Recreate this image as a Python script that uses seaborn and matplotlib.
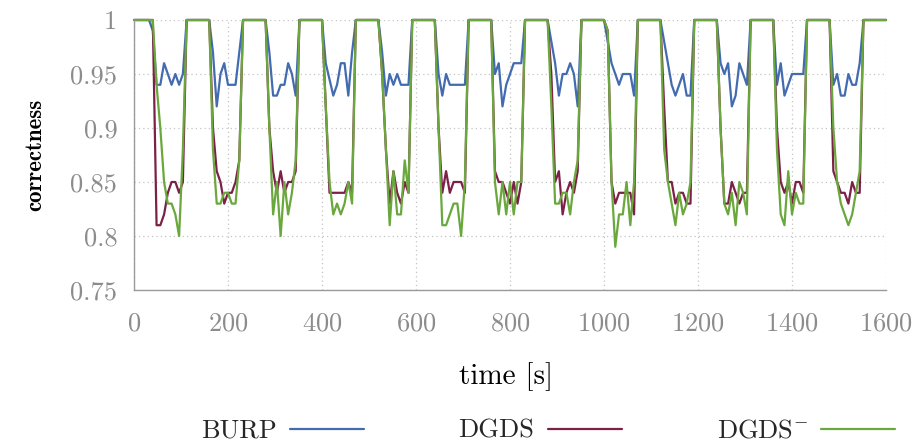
import numpy as np
import pandas as pd
import matplotlib
matplotlib.use("Agg")
import matplotlib.pyplot as plt
import seaborn as sns
from matplotlib.ticker import FuncFormatter

# ---------------- data ----------------
time_s = np.arange(0, 1601, 8)          # sample times [s]
series_names = ["BURP", "DGDS", r"DGDS$^{-}$"]
x_ticks = [0, 200, 400, 600, 800, 1000, 1200, 1400, 1600]
y_ticks = [0.75, 0.8, 0.85, 0.9, 0.95, 1.0]

# values inside each low phase (8 samples per phase, 13 phases); elsewhere 1
burp_dips = [
    [0.94, 0.94, 0.96, 0.95, 0.94, 0.95, 0.94, 0.95],
    [0.97, 0.92, 0.95, 0.96, 0.94, 0.94, 0.94, 0.97],
    [0.97, 0.93, 0.93, 0.94, 0.94, 0.96, 0.95, 0.93],
    [0.96, 0.945, 0.93, 0.94, 0.96, 0.96, 0.93, 0.97],
    [0.97, 0.93, 0.95, 0.94, 0.95, 0.94, 0.94, 0.94],
    [0.95, 0.93, 0.95, 0.94, 0.94, 0.94, 0.94, 0.94],
    [0.95, 0.96, 0.92, 0.94, 0.95, 0.96, 0.96, 0.96],
    [0.98, 0.96, 0.93, 0.95, 0.95, 0.96, 0.95, 0.92],
    [0.98, 0.96, 0.95, 0.94, 0.95, 0.95, 0.95, 0.93],
    [0.98, 0.96, 0.94, 0.93, 0.94, 0.95, 0.93, 0.93],
    [0.96, 0.95, 0.96, 0.92, 0.93, 0.96, 0.95, 0.94],
    [0.94, 0.96, 0.93, 0.94, 0.95, 0.95, 0.95, 0.95],
    [0.94, 0.95, 0.93, 0.93, 0.95, 0.94, 0.94, 0.96],
]
burp_first_drop = 0.99   # BURP value at t = 40 s

dgds_dips = [
    [0.81, 0.81, 0.82, 0.84, 0.85, 0.85, 0.84, 0.85],
    [0.90, 0.86, 0.85, 0.83, 0.84, 0.84, 0.85, 0.87],
    [0.90, 0.86, 0.84, 0.86, 0.84, 0.85, 0.85, 0.86],
    [0.92, 0.84, 0.84, 0.84, 0.84, 0.84, 0.85, 0.84],
    [0.95, 0.88, 0.83, 0.86, 0.84, 0.83, 0.85, 0.84],
    [0.90, 0.84, 0.86, 0.84, 0.85, 0.85, 0.85, 0.84],
    [0.86, 0.85, 0.85, 0.84, 0.83, 0.85, 0.83, 0.85],
    [0.95, 0.85, 0.86, 0.82, 0.84, 0.85, 0.84, 0.86],
    [0.99, 0.85, 0.83, 0.84, 0.84, 0.84, 0.84, 0.82],
    [0.92, 0.85, 0.85, 0.83, 0.84, 0.84, 0.83, 0.83],
    [0.90, 0.83, 0.83, 0.85, 0.84, 0.83, 0.84, 0.84],
    [0.90, 0.85, 0.84, 0.85, 0.83, 0.85, 0.85, 0.84],
    [0.86, 0.85, 0.84, 0.84, 0.83, 0.85, 0.84, 0.84],
]

dgds_minus_dips = [
    [0.94, 0.90, 0.85, 0.83, 0.83, 0.82, 0.80, 0.88],
    [0.88, 0.83, 0.83, 0.84, 0.84, 0.83, 0.83, 0.87],
    [0.90, 0.82, 0.85, 0.80, 0.85, 0.82, 0.84, 0.87],
    [0.92, 0.85, 0.82, 0.83, 0.82, 0.83, 0.85, 0.83],
    [0.95, 0.88, 0.81, 0.86, 0.82, 0.82, 0.87, 0.84],
    [0.90, 0.81, 0.81, 0.82, 0.83, 0.83, 0.80, 0.85],
    [0.85, 0.82, 0.85, 0.82, 0.85, 0.82, 0.85, 0.85],
    [0.92, 0.83, 0.83, 0.84, 0.84, 0.82, 0.85, 0.87],
    [0.99, 0.85, 0.79, 0.82, 0.82, 0.85, 0.81, 0.85],
    [0.88, 0.85, 0.83, 0.81, 0.84, 0.82, 0.83, 0.85],
    [0.90, 0.83, 0.82, 0.84, 0.81, 0.85, 0.84, 0.82],
    [0.88, 0.82, 0.81, 0.86, 0.82, 0.84, 0.83, 0.83],
    [0.90, 0.85, 0.83, 0.82, 0.81, 0.82, 0.84, 0.86],
]

colors = ["#426bb0", "#7b2148", "#6aa83d"]


def build(dips):
    v = np.ones(len(time_s))
    for k, d in enumerate(dips):
        i0 = 6 + 15 * k
        v[i0:i0 + len(d)] = d
    return v


burp = build(burp_dips)
burp[5] = burp_first_drop
dgds = build(dgds_dips)
dgds_minus = build(dgds_minus_dips)

df = pd.concat([
    pd.DataFrame({"time": time_s, "value": vals, "series": name})
    for name, vals in zip(series_names, [burp, dgds, dgds_minus])
], ignore_index=True)

# ---------------- style ----------------
sns.set_theme(style="white")
plt.rcParams["font.family"] = ["cmr10", "DejaVu Serif"]
plt.rcParams["mathtext.fontset"] = "cm"
plt.rcParams["axes.formatter.use_mathtext"] = True
plt.rcParams["axes.unicode_minus"] = False

W, H = 919, 445
fig = plt.figure(figsize=(W / 100, H / 100), dpi=100)
ax = fig.add_axes([134 / W, 1 - 290 / H, (886 - 134) / W, (290 - 20) / H])

sns.lineplot(data=df, x="time", y="value", hue="series",
             palette=dict(zip(series_names, colors)), hue_order=series_names,
             estimator=None, linewidth=1.6, legend=False, ax=ax)
for ln in ax.lines:
    ln.set_clip_on(False)

ax.set_xlim(0, 1600)
ax.set_ylim(0.75, 1.0)
ax.set_xticks(x_ticks)
ax.set_yticks(y_ticks)
ax.yaxis.set_major_formatter(FuncFormatter(lambda v, p: f"{round(v, 2):g}"))

ax.grid(True, linestyle=(0, (1, 2.5)), color="#c4c4c4", linewidth=0.9)
for s in ["top", "right"]:
    ax.spines[s].set_visible(False)
for s in ["left", "bottom"]:
    ax.spines[s].set_color("#9a9a9a")
    ax.spines[s].set_linewidth(1.0)

ax.tick_params(axis="both", direction="in", length=9, width=1.0,
               color="#9a9a9a", labelcolor="#8c8c8c", labelsize=19)
ax.tick_params(axis="x", pad=16)
ax.tick_params(axis="y", pad=12)

ax.set_xlabel("time [s]", fontsize=21, color="black")
ax.xaxis.set_label_coords((506 - 134) / 752, (290 - 362) / 270)
ax.set_ylabel("correctness", fontsize=16.5, color="black", family="cmb10")
ax.yaxis.set_label_coords((46 - 134) / 752, 0.5)

handles = ax.lines[:3]
fig.legend(handles, series_names, loc="center",
           bbox_to_anchor=(548 / W, 1 - 431 / H), ncol=3, frameon=False,
           markerfirst=False, handlelength=2.8, handletextpad=0.5,
           columnspacing=3.6, fontsize=19)

fig.savefig("out.png", dpi=100)
